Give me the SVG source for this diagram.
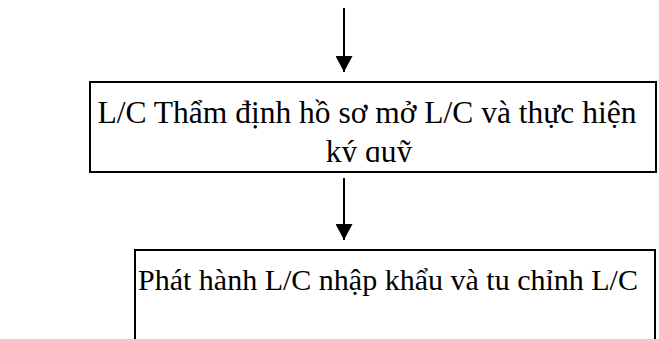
<svg xmlns="http://www.w3.org/2000/svg" width="659" height="339" viewBox="0 0 659 339">
  <style>
    .box { fill: #ffffff; stroke: #000000; stroke-width: 2; }
    .edge { stroke: #000000; stroke-width: 2; fill: none; }
    .label { font-family: "Liberation Serif", "Times New Roman", serif; font-size: 31.5px; fill: #000000; text-anchor: middle; }
    .small { font-size: 30px; }
  </style>
  <defs>
    <marker id="arrow" viewBox="0 0 16 17" refX="16" refY="8.5" markerWidth="16" markerHeight="17" markerUnits="userSpaceOnUse" orient="auto">
      <path d="M0,0 L16,8.5 L0,17 Z" fill="#000000"/>
    </marker>
    <!-- the text frame cuts off the second line at its baseline -->
    <clipPath id="clip-verify">
      <rect x="90" y="82" width="567" height="80"/>
    </clipPath>
  </defs>

  <g id="connectors">
    <line class="edge" x1="344" y1="8" x2="344" y2="72" marker-end="url(#arrow)"/>
    <line class="edge" x1="344" y1="178" x2="344" y2="240" marker-end="url(#arrow)"/>
  </g>

  <g id="verify">
    <rect class="box" x="90" y="82" width="566" height="90"/>
    <g clip-path="url(#clip-verify)">
      <text class="label" x="367" y="123">L/C Thẩm định hồ sơ mở L/C và thực hiện</text>
      <text class="label" x="369" y="162">ký quỹ</text>
    </g>
  </g>

  <g id="issue">
    <path class="box" d="M135,340 L135,250 L655,250 L655,340"/>
    <text class="label small" x="388" y="290">Phát hành L/C nhập khẩu và tu chỉnh L/C</text>
  </g>
</svg>
